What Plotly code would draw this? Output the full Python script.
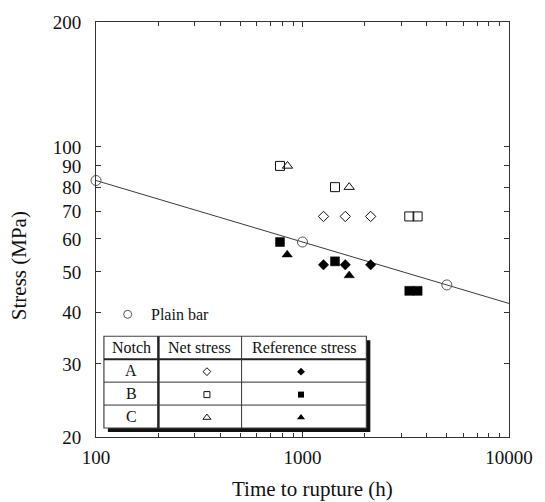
import numpy as np
import plotly.graph_objects as go

# ---- data -------------------------------------------------------------
plain_t = [100, 1000, 5000]
plain_s = [83, 59, 46.5]

a_net_t = [1264, 1611, 2138]
a_net_s = [68, 68, 68]
a_ref_t = [1264, 1611, 2138]
a_ref_s = [52, 52, 52]

b_net_t = [778, 1437, 3289, 3609]
b_net_s = [90, 80, 68, 68]
b_ref_t = [778, 1437, 3289, 3609]
b_ref_s = [59, 53, 45, 45]

c_net_t = [846, 1683]
c_net_s = [90, 80]
c_ref_t = [843, 1683]
c_ref_s = [55, 49]

x_ticks = [100, 1000, 10000]
x_minor = [200, 300, 400, 500, 600, 700, 800, 900,
           2000, 3000, 4000, 5000, 6000, 7000, 8000, 9000]
y_ticks = [20, 30, 40, 50, 60, 70, 80, 90, 100, 200]

notch_labels = ["A", "B", "C"]
table_header = ["Notch", "Net stress", "Reference stress"]

# ---- layout geometry (pixels) ----------------------------------------
W, H = 545, 502
L, R, T, B = 96, 513, 21, 437
FONT = "Liberation Serif, Times New Roman, serif"
INK = "#111111"


def px_x(x):
    return (x - L) / (R - L)


def px_y(y):
    return (B - y) / (B - T)


# power-law fit through the plain bar results
k, c = np.polyfit(np.log10(plain_t), np.log10(plain_s), 1)
fit_t = np.array([100.0, 10000.0])
fit_s = 10 ** (c + k * np.log10(fit_t))

fig = go.Figure()

fig.add_trace(go.Scatter(x=fit_t, y=fit_s, mode="lines",
                         line=dict(color="#3a3a3a", width=1), showlegend=False))

fig.add_trace(go.Scatter(x=plain_t, y=plain_s, mode="markers",
                         marker=dict(symbol="circle-open", size=10,
                                     line=dict(color="#555555", width=1), color="#555555"),
                         cliponaxis=False, showlegend=False))


def add_pts(x, y, symbol, size, filled):
    if filled:
        m = dict(symbol=symbol, size=size, color="#000000",
                 line=dict(color="#000000", width=0.5))
    else:
        m = dict(symbol=symbol + "-open", size=size, color="#111111",
                 line=dict(color="#111111", width=1))
    fig.add_trace(go.Scatter(x=x, y=y, mode="markers", marker=m, showlegend=False))


add_pts(a_net_t, a_net_s, "diamond", 8, False)
add_pts(a_ref_t, a_ref_s, "diamond", 8, True)
add_pts(b_net_t, b_net_s, "square", 9, False)
add_pts(b_ref_t, b_ref_s, "square", 9, True)
add_pts(c_net_t, c_net_s, "triangle-up", 9, False)
add_pts(c_ref_t, c_ref_s, "triangle-up", 9, True)

# ---- key: plain bar + notch table ------------------------------------
tbl_l, tbl_r, tbl_t = 104, 369, 336
row_y = [336, 359, 382, 405, 428]
col_x = [104, 159, 243, 369]
shadow = 4

shapes = [
    dict(type="rect", xref="paper", yref="paper", layer="below",
         x0=px_x(tbl_l + shadow), x1=px_x(tbl_r + shadow),
         y0=px_y(tbl_t + shadow), y1=px_y(row_y[-1] + shadow),
         fillcolor="#111111", line=dict(width=0)),
    dict(type="rect", xref="paper", yref="paper", layer="below",
         x0=px_x(tbl_l), x1=px_x(tbl_r), y0=px_y(tbl_t), y1=px_y(row_y[-1]),
         fillcolor="white", line=dict(color="#444444", width=1.2)),
    dict(type="line", xref="paper", yref="paper", layer="below",
         x0=px_x(tbl_l), x1=px_x(tbl_r), y0=px_y(row_y[1]), y1=px_y(row_y[1]),
         line=dict(color="#222222", width=2)),
    dict(type="line", xref="paper", yref="paper", layer="below",
         x0=px_x(col_x[1]), x1=px_x(col_x[1]), y0=px_y(tbl_t), y1=px_y(row_y[-1]),
         line=dict(color="#222222", width=2.5)),
    dict(type="line", xref="paper", yref="paper", layer="below",
         x0=px_x(col_x[2]), x1=px_x(col_x[2]), y0=px_y(tbl_t), y1=px_y(row_y[-1]),
         line=dict(color="#333333", width=1)),
]
for ry in row_y[2:-1]:
    shapes.append(dict(type="line", xref="paper", yref="paper", layer="below",
                       x0=px_x(tbl_l), x1=px_x(tbl_r), y0=px_y(ry), y1=px_y(ry),
                       line=dict(color="#333333", width=1)))

annotations = []
col_c = [(col_x[i] + col_x[i + 1]) / 2 for i in range(3)]
for txt, cx in zip(table_header, col_c):
    annotations.append(dict(text=txt, x=px_x(cx), y=px_y((row_y[0] + row_y[1]) / 2),
                            xref="paper", yref="paper", showarrow=False,
                            xanchor="center", yanchor="middle",
                            font=dict(family=FONT, size=16, color=INK)))
for i, lab in enumerate(notch_labels):
    annotations.append(dict(text=lab, x=px_x(col_c[0]), y=px_y((row_y[i + 1] + row_y[i + 2]) / 2),
                            xref="paper", yref="paper", showarrow=False,
                            xanchor="center", yanchor="middle",
                            font=dict(family=FONT, size=16, color=INK)))

annotations.append(dict(text="Plain bar", x=px_x(150), y=px_y(314), xref="paper", yref="paper",
                        showarrow=False, xanchor="left", yanchor="middle",
                        font=dict(family=FONT, size=16, color=INK)))

# axis titles
annotations.append(dict(text="Time to rupture (h)", x=px_x(315), y=px_y(489),
                        xref="paper", yref="paper", showarrow=False,
                        xanchor="center", yanchor="middle",
                        font=dict(family=FONT, size=21, color=INK)))
annotations.append(dict(text="Stress (MPa)", x=px_x(19), y=px_y(265), textangle=-90,
                        xref="paper", yref="paper", showarrow=False,
                        xanchor="center", yanchor="middle",
                        font=dict(family=FONT, size=21, color=INK)))

# key symbols on a pixel-unit overlay
key_net_x = 208
key_ref_x = 303
row_c = [(row_y[i + 1] + row_y[i + 2]) / 2 + 1 for i in range(3)]
key_syms = ["diamond", "square", "triangle-up"]
key_sizes = [6, 6, 7]
for sym, sz, ry in zip(key_syms, key_sizes, row_c):
    fig.add_trace(go.Scatter(x=[key_net_x], y=[ry], xaxis="x2", yaxis="y2", mode="markers",
                             marker=dict(symbol=sym + "-open", size=sz, color="#111111",
                                         line=dict(color="#111111", width=1)),
                             showlegend=False))
    fig.add_trace(go.Scatter(x=[key_ref_x], y=[ry], xaxis="x2", yaxis="y2", mode="markers",
                             marker=dict(symbol=sym, size=sz, color="#000000",
                                         line=dict(width=0)),
                             showlegend=False))
fig.add_trace(go.Scatter(x=[128], y=[314], xaxis="x2", yaxis="y2", mode="markers",
                         marker=dict(symbol="circle-open", size=8, color="#555555",
                                     line=dict(color="#555555", width=1)),
                         showlegend=False))

axis_common = dict(
    showgrid=False, zeroline=False, showline=True, linecolor="#333333", linewidth=1,
    mirror="ticks", ticks="inside", ticklen=5, tickwidth=1, tickcolor="#333333",
    tickfont=dict(family=FONT, size=19, color=INK),
)

fig.update_layout(
    width=W, height=H,
    margin=dict(l=L, r=W - R, t=T, b=H - B, pad=0),
    paper_bgcolor="white", plot_bgcolor="white",
    showlegend=False,
    xaxis=dict(type="log", range=[2, 4], tickmode="array", tickvals=x_ticks,
               ticktext=[str(v) for v in x_ticks], ticklabelstandoff=3,
               minor=dict(tickmode="array", tickvals=x_minor, ticks="inside",
                          ticklen=4, tickwidth=1, tickcolor="#333333"),
               **axis_common),
    yaxis=dict(type="log", range=[np.log10(20), np.log10(200)], tickmode="array",
               tickvals=y_ticks, ticktext=[str(v) for v in y_ticks], ticklabelstandoff=10,
               **axis_common),
    xaxis2=dict(overlaying="x", range=[L, R], visible=False, fixedrange=True),
    yaxis2=dict(overlaying="y", range=[B, T], visible=False, fixedrange=True),
    shapes=shapes,
    annotations=annotations,
)

fig.write_html("out.html")
